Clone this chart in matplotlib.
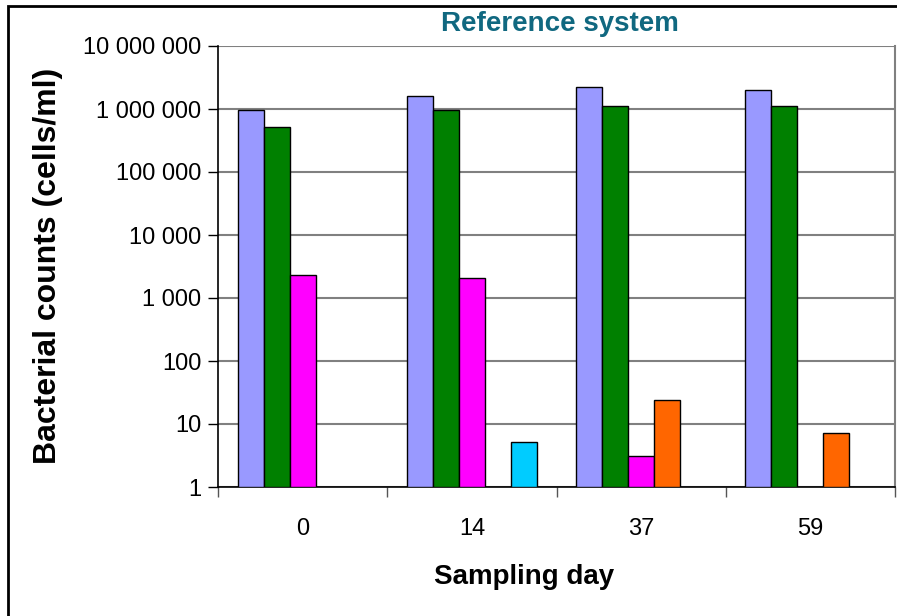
import numpy as np
import matplotlib.pyplot as plt
from matplotlib.patches import Rectangle

plt.rcParams['font.family'] = ['Liberation Sans', 'DejaVu Sans']

# data
days = ['0', '14', '37', '59']
series1 = [950000, 1620000, 2200000, 2000000]   # lavender
series2 = [510000, 950000, 1110000, 1100000]    # green
series3 = [2340, 2100, 3.07, np.nan]            # magenta
series4 = [np.nan, np.nan, 24.3, 7.3]           # orange
series5 = [np.nan, 5.1, np.nan, np.nan]         # cyan
colors = ['#9999FF', '#008000', '#FF00FF', '#FF6600', '#00CCFF']

fig = plt.figure(figsize=(8.97, 6.16), dpi=100)
ax = fig.add_axes([218 / 897, 1 - 487 / 616, (895 - 218) / 897, (487 - 46) / 616])

x = np.arange(len(days))
w = 26 / 169
for i, (vals, c) in enumerate(zip([series1, series2, series3, series4, series5], colors)):
    # bars start at 1 (bottom of the log axis)
    ax.bar(x + (i - 2) * w, np.array(vals) - 1, w, bottom=1, color=c,
           edgecolor='black', linewidth=1, zorder=3)

ax.set_yscale('log')
ax.set_ylim(1, 1e7)
ax.set_xlim(-0.5, 3.5)
ticks = [10 ** k for k in range(8)]
ax.set_yticks(ticks)
ax.set_yticklabels([f'{t:,}'.replace(',', ' ') for t in ticks], fontsize=17)
ax.yaxis.set_minor_locator(plt.NullLocator())
ax.tick_params(axis='y', length=7, width=1, color='black', pad=5)

# x ticks at group boundaries, labels at group centres
ax.set_xticks(np.arange(-0.5, 4, 1))
ax.set_xticklabels([])
ax.set_xticks(x, minor=True)
ax.set_xticklabels(days, minor=True, fontsize=17)
ax.tick_params(axis='x', which='major', length=7, width=1, color='#555555')
ax.tick_params(axis='x', which='minor', length=0, pad=22)

ax.grid(axis='y', which='major', color='#808080', linewidth=1.5, zorder=0)
ax.spines['top'].set_visible(False)
ax.spines['right'].set_color('#808080')
ax.spines['right'].set_linewidth(1.5)
ax.spines['left'].set_linewidth(1.2)
ax.spines['bottom'].set_linewidth(1.2)

fig.text(48 / 897, 1 - 266 / 616, 'Bacterial counts (cells/ml)', rotation=90,
         ha='center', va='center', fontsize=23, fontweight='bold')
fig.text(524 / 897, 1 - 577 / 616, 'Sampling day', ha='center', va='center',
         fontsize=20, fontweight='bold')
fig.text(560 / 897, 1 - 24 / 616, 'Reference system', ha='center', va='center',
         fontsize=20, fontweight='bold', color='#106880')

# outer chart border
fig.patches.append(Rectangle((8 / 897, -0.05), 1.1, 1 - 6 / 616 + 0.05,
                             transform=fig.transFigure, fill=False,
                             edgecolor='black', linewidth=2))

fig.savefig('out.png', dpi=100)
